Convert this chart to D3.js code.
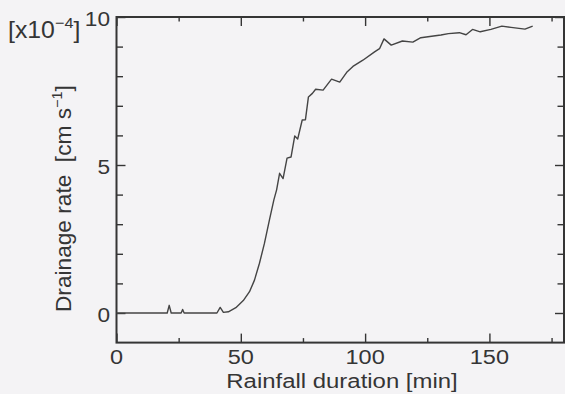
<!DOCTYPE html>
<html>
<head>
<meta charset="utf-8">
<script src="https://cdn.jsdelivr.net/npm/d3@7"></script>
<style>
  html, body { margin: 0; padding: 0; background: #f4f3f5; }
  svg { display: block; }
  text { font-family: "Liberation Sans", Arial, Helvetica, sans-serif; fill: #353535; white-space: pre; }
</style>
</head>
<body>
<svg id="chart" width="565" height="394"></svg>
<script>
// Rainfall duration [min] and drainage rate [x10^-4 cm s^-1]
const timeMin = [0, 20.4, 21.2, 22.0, 26.0, 26.6, 27.2, 40.4, 41.7, 43.0, 45.0, 48.0, 51.0, 53.5, 55.5, 57.5, 59.5, 61.5, 63.3, 64.4, 65.6, 67.0, 68.6, 70.2, 71.7, 72.9, 74.7, 76.0, 77.2, 78.8, 80.1, 83.1, 86.5, 89.8, 92.6, 95.1, 99.1, 103.8, 105.8, 107.6, 110.5, 115.0, 119.2, 122.4, 127.5, 130.5, 133.5, 137.9, 140.6, 143.2, 146.3, 150.6, 155.0, 158.7, 164.3, 167.4];
const drainage = [0, 0, 0.26, 0, 0, 0.12, 0, 0, 0.19, 0.02, 0.04, 0.18, 0.42, 0.72, 1.11, 1.68, 2.35, 3.14, 3.82, 4.16, 4.72, 4.54, 5.23, 5.27, 5.98, 5.88, 6.52, 6.53, 7.30, 7.42, 7.56, 7.53, 7.90, 7.80, 8.13, 8.33, 8.54, 8.82, 8.93, 9.26, 9.05, 9.19, 9.15, 9.30, 9.36, 9.39, 9.44, 9.47, 9.40, 9.58, 9.50, 9.58, 9.69, 9.65, 9.59, 9.69];

const xDomain = [0, 180];
const yDomain = [-1, 10];
const xMajorTicks = [0, 50, 100, 150];
const xMinorTicks = [25, 75, 125, 175];
const yMajorTicks = [0, 5, 10];
const yMinorTicks = [1, 2, 3, 4, 6, 7, 8, 9];

const xLabel = "Rainfall duration [min]";
const yLabel = "Drainage rate\u00a0\u00a0[cm s";
const yLabelExp = "\u22121";
const scaleNote = "[x10";
const scaleNoteExp = "\u22124";

const ink = "#353535";
const plotLeft = 116.5, plotRight = 564, plotTop = 17, plotBottom = 342.6;

const svg = d3.select("#chart");
svg.append("rect").attr("width", 565).attr("height", 394).attr("fill", "#f4f3f5");

const x = d3.scaleLinear().domain(xDomain).range([plotLeft, plotRight]);
const y = d3.scaleLinear().domain(yDomain).range([plotBottom, plotTop]);

// inward ticks on all four sides
function addTicks(axisGen, tx, ty, size) {
  svg.append("g")
    .attr("transform", `translate(${tx},${ty})`)
    .call(axisGen.tickSizeInner(size).tickSizeOuter(0).tickFormat(""))
    .call(g => g.select(".domain").remove())
    .call(g => g.selectAll("line").attr("stroke", ink).attr("stroke-width", 1.4));
}
addTicks(d3.axisTop(x).tickValues(xMajorTicks), 0, plotBottom, 9);
addTicks(d3.axisTop(x).tickValues(xMinorTicks), 0, plotBottom, 4.5);
addTicks(d3.axisBottom(x).tickValues(xMajorTicks), 0, plotTop, 9);
addTicks(d3.axisBottom(x).tickValues(xMinorTicks), 0, plotTop, 4.5);
addTicks(d3.axisRight(y).tickValues(yMajorTicks), plotLeft, 0, 9);
addTicks(d3.axisRight(y).tickValues(yMinorTicks), plotLeft, 0, 6.5);
addTicks(d3.axisLeft(y).tickValues(yMajorTicks), plotRight, 0, 9);
addTicks(d3.axisLeft(y).tickValues(yMinorTicks), plotRight, 0, 6.5);

// frame
svg.append("rect")
  .attr("x", plotLeft).attr("y", plotTop)
  .attr("width", plotRight - plotLeft).attr("height", plotBottom - plotTop)
  .attr("fill", "none").attr("stroke", ink).attr("stroke-width", 2);

// data line
const line = d3.line().x((d, i) => x(timeMin[i])).y(d => y(d));
svg.append("path")
  .datum(drainage)
  .attr("d", line)
  .attr("fill", "none")
  .attr("stroke", "#444")
  .attr("stroke-width", 1.4)
  .attr("stroke-linejoin", "round");

// tick labels
xMajorTicks.forEach(v => {
  svg.append("text")
    .attr("transform", `translate(${x(v)},364) scale(1.12,1)`)
    .attr("text-anchor", "middle")
    .style("font-size", "21px")
    .text(v);
});
yMajorTicks.forEach(v => {
  svg.append("text")
    .attr("transform", `translate(110,${y(v) + 9}) scale(1.08,1)`)
    .attr("text-anchor", "end")
    .style("font-size", "21px")
    .text(v);
});

// axis titles
svg.append("text")
  .attr("transform", `translate(342,388) scale(1.14,1)`)
  .attr("text-anchor", "middle")
  .style("font-size", "21px")
  .text(xLabel);

const yt = svg.append("text")
  .attr("transform", `translate(71,312) rotate(-90) scale(1.03,1)`)
  .attr("text-anchor", "start")
  .style("font-size", "22px");
yt.append("tspan").text(yLabel);
yt.append("tspan").attr("dy", -9).style("font-size", "14px").text(yLabelExp);
yt.append("tspan").attr("dy", 9).text("]");

const sn = svg.append("text")
  .attr("transform", `translate(8,38) scale(1.08,1)`)
  .style("font-size", "23px");
sn.append("tspan").text(scaleNote);
sn.append("tspan").attr("dy", -10).style("font-size", "15px").text(scaleNoteExp);
sn.append("tspan").attr("dy", 10).text("]");
</script>
</body>
</html>
